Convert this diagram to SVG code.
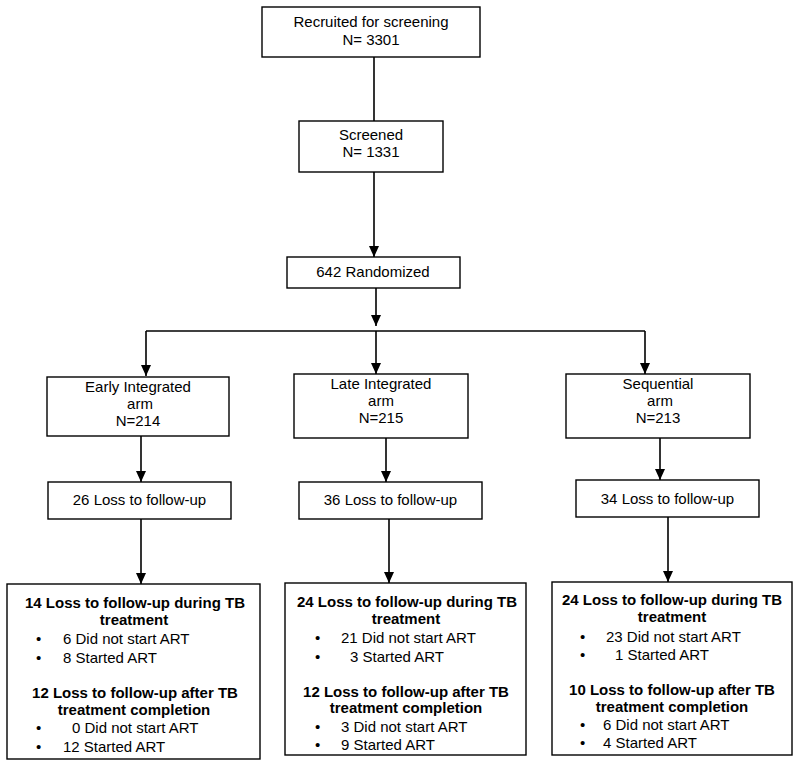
<svg xmlns="http://www.w3.org/2000/svg" width="800" height="767" viewBox="0 0 800 767">
<style>
text{font-family:"Liberation Sans",Arial,sans-serif;font-size:15px;fill:#000}
.c{text-anchor:middle}
.b{font-weight:bold}
rect{fill:#fff;stroke:#000;stroke-width:1.4}
.ln{stroke:#000;stroke-width:1.6;fill:none}
</style>
<defs>
<marker id="ah" markerUnits="userSpaceOnUse" markerWidth="11" markerHeight="10" refX="11" refY="5" orient="auto">
<path d="M0,0 L11,5 L0,10 z" fill="#000"/>
</marker>
</defs>
<g id="connectors">
<line class="ln" x1="374" y1="57" x2="374" y2="121"/>
<line class="ln" x1="374" y1="172" x2="374" y2="257" marker-end="url(#ah)"/>
<line class="ln" x1="376" y1="288" x2="376" y2="326" marker-end="url(#ah)"/>
<line class="ln" x1="146" y1="331" x2="645" y2="331"/>
<line class="ln" x1="146" y1="331" x2="146" y2="376" marker-end="url(#ah)"/>
<line class="ln" x1="376" y1="331" x2="376" y2="374" marker-end="url(#ah)"/>
<line class="ln" x1="645" y1="331" x2="645" y2="374" marker-end="url(#ah)"/>
<line class="ln" x1="141" y1="436" x2="141" y2="482" marker-end="url(#ah)"/>
<line class="ln" x1="386" y1="438" x2="386" y2="482" marker-end="url(#ah)"/>
<line class="ln" x1="660" y1="438" x2="660" y2="480" marker-end="url(#ah)"/>
<line class="ln" x1="141" y1="519" x2="141" y2="584" marker-end="url(#ah)"/>
<line class="ln" x1="389" y1="519" x2="389" y2="583" marker-end="url(#ah)"/>
<line class="ln" x1="668" y1="517" x2="668" y2="582" marker-end="url(#ah)"/>
</g>
<g id="recruited">
<rect x="262" y="7" width="218" height="50"/>
<text class="c" x="371" y="27">Recruited for screening</text>
<text class="c" x="371" y="45">N= 3301</text>
</g>
<g id="screened">
<rect x="299" y="121" width="144" height="51"/>
<text class="c" x="371" y="140">Screened</text>
<text class="c" x="371" y="157">N= 1331</text>
</g>
<g id="randomized">
<rect x="287" y="257" width="173" height="31"/>
<text class="c" x="373" y="277">642 Randomized</text>
</g>
<g id="early">
<rect x="47" y="377" width="182" height="59"/>
<text class="c" x="138" y="392">Early Integrated</text>
<text class="c" x="140" y="409">arm</text>
<text class="c" x="138" y="426">N=214</text>
</g>
<g id="late">
<rect x="294" y="374" width="174" height="64"/>
<text class="c" x="381" y="389">Late Integrated</text>
<text class="c" x="381" y="406">arm</text>
<text class="c" x="381" y="423">N=215</text>
</g>
<g id="sequential">
<rect x="566" y="374" width="184" height="64"/>
<text class="c" x="658" y="389">Sequential</text>
<text class="c" x="660" y="406">arm</text>
<text class="c" x="658" y="423">N=213</text>
</g>
<g id="loss-early">
<rect x="48" y="482" width="183" height="37"/>
<text class="c" x="139.5" y="505">26 Loss to follow-up</text>
</g>
<g id="loss-late">
<rect x="299" y="482" width="183" height="37"/>
<text class="c" x="390.5" y="505">36 Loss to follow-up</text>
</g>
<g id="loss-sequential">
<rect x="576" y="480" width="183" height="37"/>
<text class="c" x="667.5" y="504">34 Loss to follow-up</text>
</g>
<g id="detail-early">
<rect x="7" y="584" width="253" height="175"/>
<text class="c b" x="135" y="608">14 Loss to follow-up during TB</text>
<text class="c b" x="134" y="625">treatment</text>
<text x="36" y="644">•</text><text x="63" y="644">6 Did not start ART</text>
<text x="36" y="663">•</text><text x="63" y="663">8 Started ART</text>
<text class="c b" x="135" y="698">12 Loss to follow-up after TB</text>
<text class="c b" x="134" y="715">treatment completion</text>
<text x="36" y="733">•</text><text x="72" y="733">0 Did not start ART</text>
<text x="36" y="752">•</text><text x="63" y="752">12 Started ART</text>
</g>
<g id="detail-late">
<rect x="285" y="583" width="241" height="172"/>
<text class="c b" x="407" y="607">24 Loss to follow-up during TB</text>
<text class="c b" x="406" y="624">treatment</text>
<text x="315" y="643">•</text><text x="341" y="643">21 Did not start ART</text>
<text x="315" y="662">•</text><text x="350" y="662">3 Started ART</text>
<text class="c b" x="406" y="697">12 Loss to follow-up after TB</text>
<text class="c b" x="406" y="713">treatment completion</text>
<text x="315" y="732">•</text><text x="341" y="732">3 Did not start ART</text>
<text x="315" y="750">•</text><text x="341" y="750">9 Started ART</text>
</g>
<g id="detail-sequential">
<rect x="552" y="582" width="240" height="173"/>
<text class="c b" x="672" y="605">24 Loss to follow-up during TB</text>
<text class="c b" x="672" y="622">treatment</text>
<text x="580" y="642">•</text><text x="606" y="642">23 Did not start ART</text>
<text x="580" y="660">•</text><text x="615" y="660">1 Started ART</text>
<text class="c b" x="672" y="695">10 Loss to follow-up after TB</text>
<text class="c b" x="672" y="712">treatment completion</text>
<text x="580" y="730">•</text><text x="603" y="730">6 Did not start ART</text>
<text x="580" y="748">•</text><text x="603" y="748">4 Started ART</text>
</g>
</svg>
